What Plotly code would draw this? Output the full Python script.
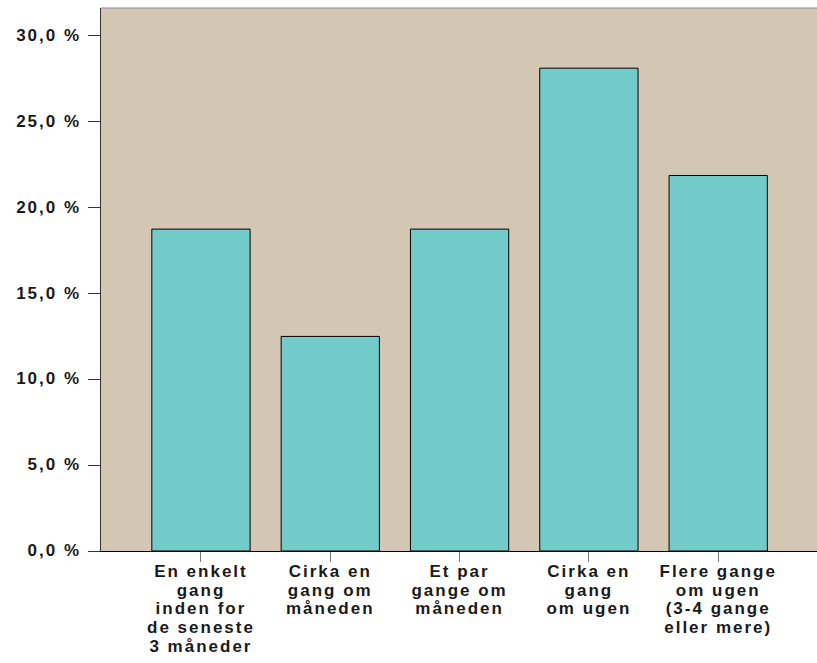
import plotly.graph_objects as go

# Answer categories and share of respondents (%)
categories = [
    "En enkelt<br>gang<br>inden for<br>de seneste<br>3 måneder",
    "Cirka en<br>gang om<br>måneden",
    "Et par<br>gange om<br>måneden",
    "Cirka en<br>gang<br>om ugen",
    "Flere gange<br>om ugen<br>(3-4 gange<br>eller mere)",
]
shares = [18.75, 12.5, 18.75, 28.125, 21.875]
y_ticks = [0, 5, 10, 15, 20, 25, 30]

BG = "#d3c7b4"
BAR = "#72cbc9"
FONT = "Liberation Sans, Arial, sans-serif"
LABEL_STYLE = "font-size:17px;letter-spacing:2px"


def styled(text):
    # apply the tracked label style to every line of a tick label
    return "<br>".join(
        f'<span style="{LABEL_STYLE}"><b>{part}</b></span>' for part in text.split("<br>")
    )


fig = go.Figure(
    go.Bar(
        x=list(range(len(categories))),
        y=shares,
        width=0.76,
        marker=dict(color=BAR, line=dict(color="#000000", width=1)),
        hoverinfo="skip",
    )
)

fig.update_layout(
    width=817,
    height=663,
    margin=dict(l=101, r=0, t=8, b=112),
    paper_bgcolor="white",
    plot_bgcolor=BG,
    showlegend=False,
    font=dict(family=FONT, size=14.6, color="#1a1a1a"),
)

fig.update_xaxes(
    range=[-0.773, 4.764],
    tickmode="array",
    tickvals=list(range(len(categories))),
    ticktext=[styled(c) for c in categories],
    ticks="outside",
    ticklen=10,
    tickcolor="#777777",
    tickwidth=1,
    ticklabelstandoff=-3,
    showline=True,
    linecolor="#000000",
    linewidth=1,
    showgrid=False,
    zeroline=False,
    tickangle=0,
    tickfont=dict(family=FONT, size=14.6, color="#1a1a1a"),
)

fig.update_yaxes(
    range=[0, 31.63],
    tickmode="array",
    tickvals=y_ticks,
    ticktext=[styled(f"{v:.1f}".replace(".", ",") + " %") for v in y_ticks],
    ticks="outside",
    ticklen=12,
    tickcolor="#333333",
    tickwidth=1,
    ticklabelstandoff=4,
    showline=True,
    linecolor="#333333",
    linewidth=1,
    showgrid=False,
    zeroline=False,
    tickfont=dict(family=FONT, size=14.6, color="#1a1a1a"),
)

# thin grey frame along the top of the plot area
fig.add_shape(
    type="line", xref="paper", yref="paper",
    x0=0, x1=1, y0=1, y1=1,
    line=dict(color="#888888", width=1),
)

fig.write_html("out.html")
